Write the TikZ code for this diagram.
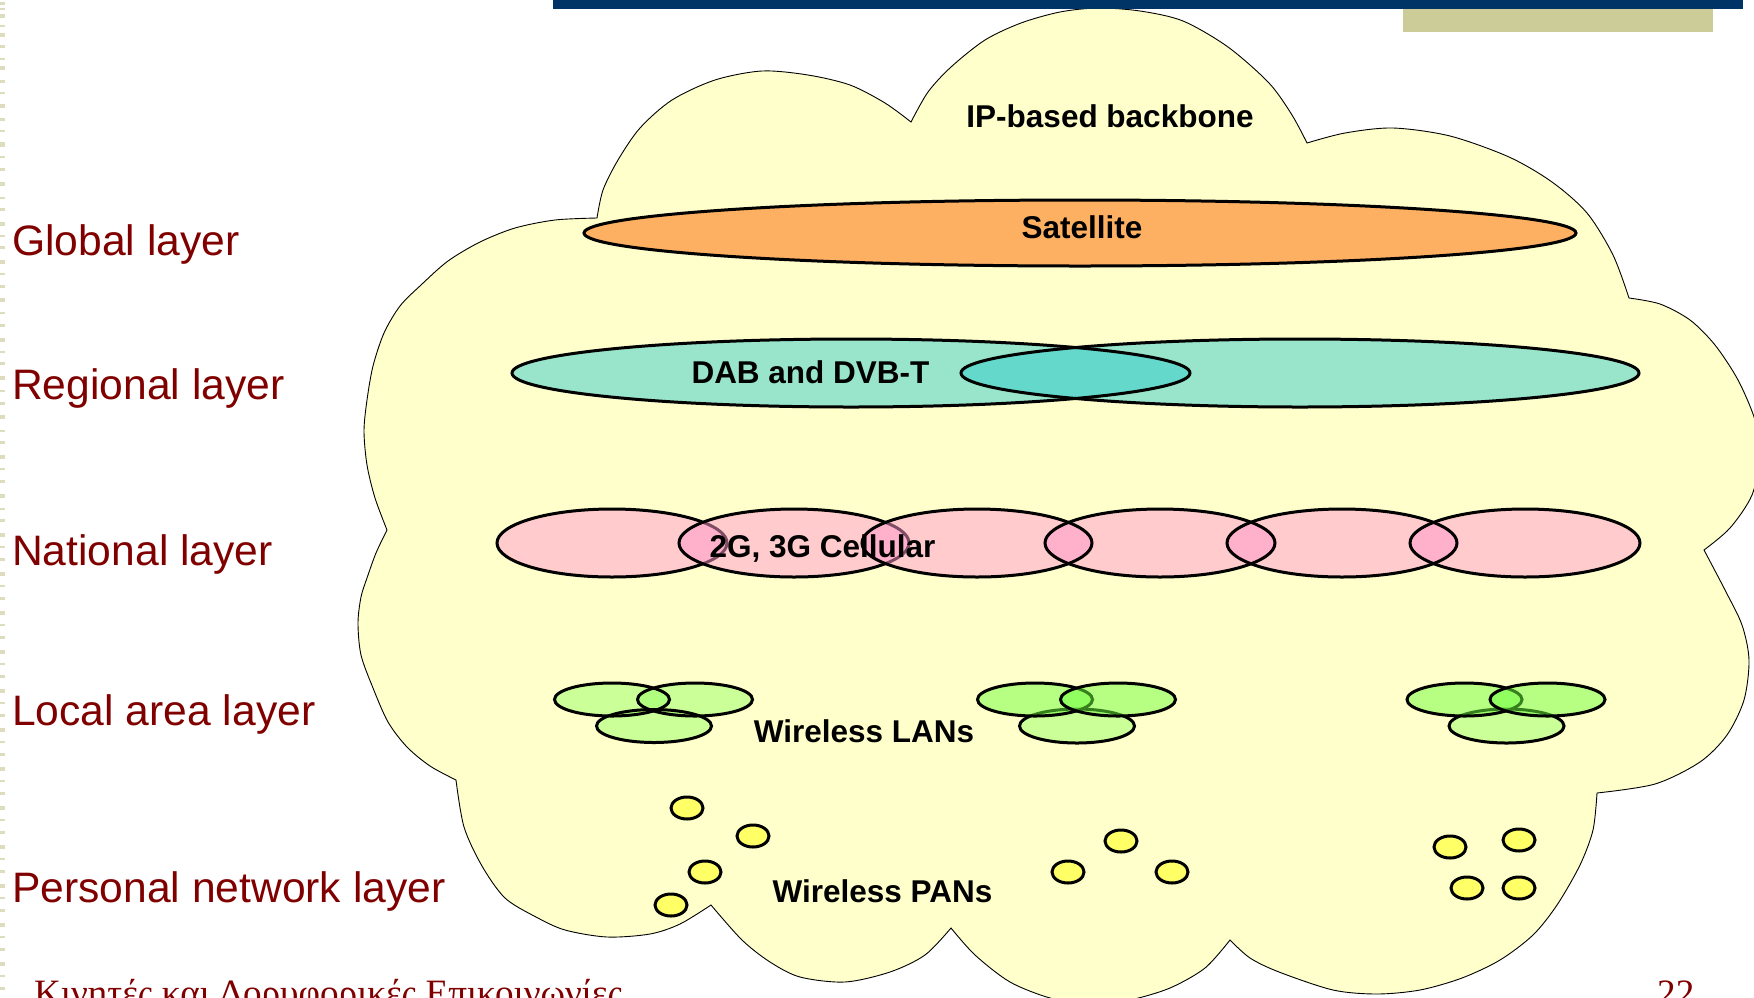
\documentclass[tikz,border=0pt]{standalone}
\usepackage{fontspec}
\setmainfont{Liberation Sans}
\newfontfamily\footfont{Liberation Serif}

\definecolor{layerred}{RGB}{128,0,0}
\definecolor{barnavy}{RGB}{0,51,102}
\definecolor{barkhaki}{RGB}{204,204,153}
\definecolor{stripkhaki}{RGB}{222,220,190}
\definecolor{cloudfill}{RGB}{255,255,204}
\definecolor{satfill}{RGB}{253,176,98}
\definecolor{dabfill}{RGB}{51,204,204}
\definecolor{cellfill}{RGB}{255,153,204}
\definecolor{wlanfill}{RGB}{153,255,102}
\definecolor{wlandeep}{RGB}{110,255,60}
\definecolor{panfill}{RGB}{255,255,102}

\begin{document}
\begin{tikzpicture}[x=1pt,y=-1pt,
  layerlabel/.style={anchor=base west,inner sep=0pt,text=layerred,
    font=\fontsize{42.6}{48}\selectfont},
  tag/.style={anchor=base,inner sep=0pt,
    font=\bfseries\fontsize{31.5}{36}\selectfont},
  footer/.style={anchor=base west,inner sep=0pt,text=layerred,
    font=\footfont\fontsize{37.2}{42}\selectfont},
  cloudline/.style={draw=black,line width=0.9pt,fill=cloudfill},
  ring/.style={draw=black,line width=3pt},
  seethrough/.style={fill=#1,fill opacity=0.5},
]
% page frame
\path[use as bounding box] (0,0) rectangle (1754,997);
\clip (0,0) rectangle (1754,997);
\fill[white] (0,0) rectangle (1754,997);

% dashed strip along the left edge
\foreach \y/\h in {2/3,8/2,14/4,25/2,33/4,45/3,58/2,66/4,80/3,92/2,104/4,118/3,
  130/2,142/5,156/2,168/3,182/4,197/2,208/3,222/4,235/2,246/3,260/4,273/2,285/3,
  298/4,312/2,324/3,338/4,351/2,362/3,376/4,390/2,402/3,415/4,430/2,441/3,455/4,
  468/2,480/3,494/4,508/2,519/3,533/4,546/2,558/3,572/4,585/2,597/3,611/4,624/2,
  636/3,650/4,663/2,675/3,689/4,702/2,714/3,728/4,741/2,753/3,767/4,780/2,792/3,
  806/4,819/2,831/3,845/4,858/2,870/3,884/4,897/2,909/3,923/4,936/2,948/3,962/4,
  975/2,987/3}
  \fill[stripkhaki] (0,\y) rectangle (5,\y+\h);

% the backbone cloud
\path[cloudline]
  (597,218)
  -- plot[smooth] coordinates {(597,218) (603,190) (618,160) (640,128) (672,100) (715,80) (762,71) (808,75) (850,85) (885,103) (911,122)}
  -- plot[smooth] coordinates {(911,122) (928,92) (951,67) (985,40) (1021,23) (1060,12) (1098,8) (1140,11) (1183,21) (1228,47) (1269,83) (1292,115) (1307,143)}
  -- plot[smooth] coordinates {(1307,143) (1345,133) (1393,128) (1450,136) (1509,157) (1552,182) (1587,213) (1613,255) (1629,298)}
  -- plot[smooth] coordinates {(1629,298) (1660,304) (1690,320) (1715,345) (1738,380) (1755,420) (1760,455) (1752,495) (1730,528) (1704,550)}
  -- plot[smooth] coordinates {(1704,550) (1725,590) (1742,625) (1749,660) (1744,700) (1727,735) (1700,762) (1655,784) (1597,793)}
  -- plot[smooth] coordinates {(1597,793) (1593,830) (1580,865) (1557,905) (1533,935) (1500,960) (1462,978) (1420,990) (1377,994) (1333,990) (1279,972) (1250,958) (1230,940)}
  -- plot[smooth] coordinates {(1230,940) (1205,968) (1170,988) (1130,1000) (1090,1005) (1050,998) (1010,982) (975,955) (951,928)}
  -- plot[smooth] coordinates {(951,928) (925,955) (890,972) (845,982) (800,977) (770,962) (742,940) (711,905)}
  -- plot[smooth] coordinates {(711,905) (680,924) (650,934) (607,937) (565,930) (536,917) (505,898) (482,866) (464,827) (456,780)}
  -- plot[smooth] coordinates {(456,780) (430,766) (407,747) (388,722) (373,688) (361,655) (358,623) (361,597) (367,578) (376,553) (387,530)}
  -- plot[smooth] coordinates {(387,530) (375,498) (367,465) (364,431) (367,400) (373,366) (384,333) (400,306) (421,285) (448,261) (480,242) (515,228) (555,220) (597,218)}
  -- cycle;

% title bars
\fill[barnavy] (553,0) rectangle (1743,9);
\fill[barkhaki] (1403,9) rectangle (1713,32);

% global layer: satellite footprint
\path[ring,fill=satfill] (1080,233) ellipse [x radius=496pt,y radius=33pt];

% regional layer: broadcast areas
\fill[seethrough=dabfill] (851,373) ellipse [x radius=339pt,y radius=34pt];
\fill[seethrough=dabfill] (1300,373) ellipse [x radius=339pt,y radius=34pt];
\draw[ring] (851,373) ellipse [x radius=339pt,y radius=34pt];
\draw[ring] (1300,373) ellipse [x radius=339pt,y radius=34pt];

% national layer: cellular coverage
\path[ring,seethrough=cellfill] (612,543) ellipse [x radius=115pt,y radius=34pt];
\path[ring,seethrough=cellfill] (794,543) ellipse [x radius=115pt,y radius=34pt];
\foreach \cx in {977,1160,1342,1525}
  \fill[seethrough=cellfill] (\cx,543) ellipse [x radius=115pt,y radius=34pt];
\foreach \cx in {977,1160,1342,1525}
  \draw[ring] (\cx,543) ellipse [x radius=115pt,y radius=34pt];

% local area layer: WLAN hot spots
\foreach \cx/\cy in {612/699.5,695/699.5,654/726}
  \fill[seethrough=wlanfill] (\cx,\cy) ellipse [x radius=57.5pt,y radius=16.5pt];
\foreach \cx/\cy in {612/699.5,695/699.5,654/726}
  \draw[ring] (\cx,\cy) ellipse [x radius=57.5pt,y radius=16.5pt];
\foreach \ax in {1035,1464.5}{
  \path[ring,seethrough=wlanfill] (\ax+42,726) ellipse [x radius=57.5pt,y radius=17pt];
  \path[ring,seethrough=wlandeep] (\ax,699.5) ellipse [x radius=57.5pt,y radius=16.5pt];
  \path[ring,seethrough=wlandeep] (\ax+83,699.5) ellipse [x radius=57.5pt,y radius=16.5pt];
}

% personal network layer: PAN devices
\foreach \px/\py in {687/808,753/836,705/872,671/905,1121/841,1068/872,1172/872,
  1450/847,1519/840,1467/888,1519/888}
  \path[ring,fill=panfill] (\px,\py) ellipse [x radius=16pt,y radius=11pt];

% layer names
\node[layerlabel] (global)   at (12,255)   {Global layer};
\node[layerlabel] (regional) at (12,399.5) {Regional layer};
\node[layerlabel] (national) at (12,565.5) {National layer};
\node[layerlabel] (local)    at (12,725.5) {Local area layer};
\node[layerlabel] (personal) at (12,902.5) {Personal network layer};

% technology names
\node[tag] (backbone) at (1110,127)   {IP-based backbone};
\node[tag] (sat)      at (1082,238)   {Satellite};
\node[tag] (dab)      at (810.5,383)  {DAB and DVB-T};
\node[tag] (cell)     at (822.5,557)  {2G, 3G Cellular};
\node[tag] (wlan)     at (864,742)    {Wireless LANs};
\node[tag] (wpan)     at (882.5,902)  {Wireless PANs};

% footer, running past the lower edge of the page
\node[footer] (course) at (34,1005)   {Κινητές και Δορυφορικές Επικοινωνίες};
\node[footer] (pageno) at (1657,1005) {22};
\end{tikzpicture}
\end{document}
